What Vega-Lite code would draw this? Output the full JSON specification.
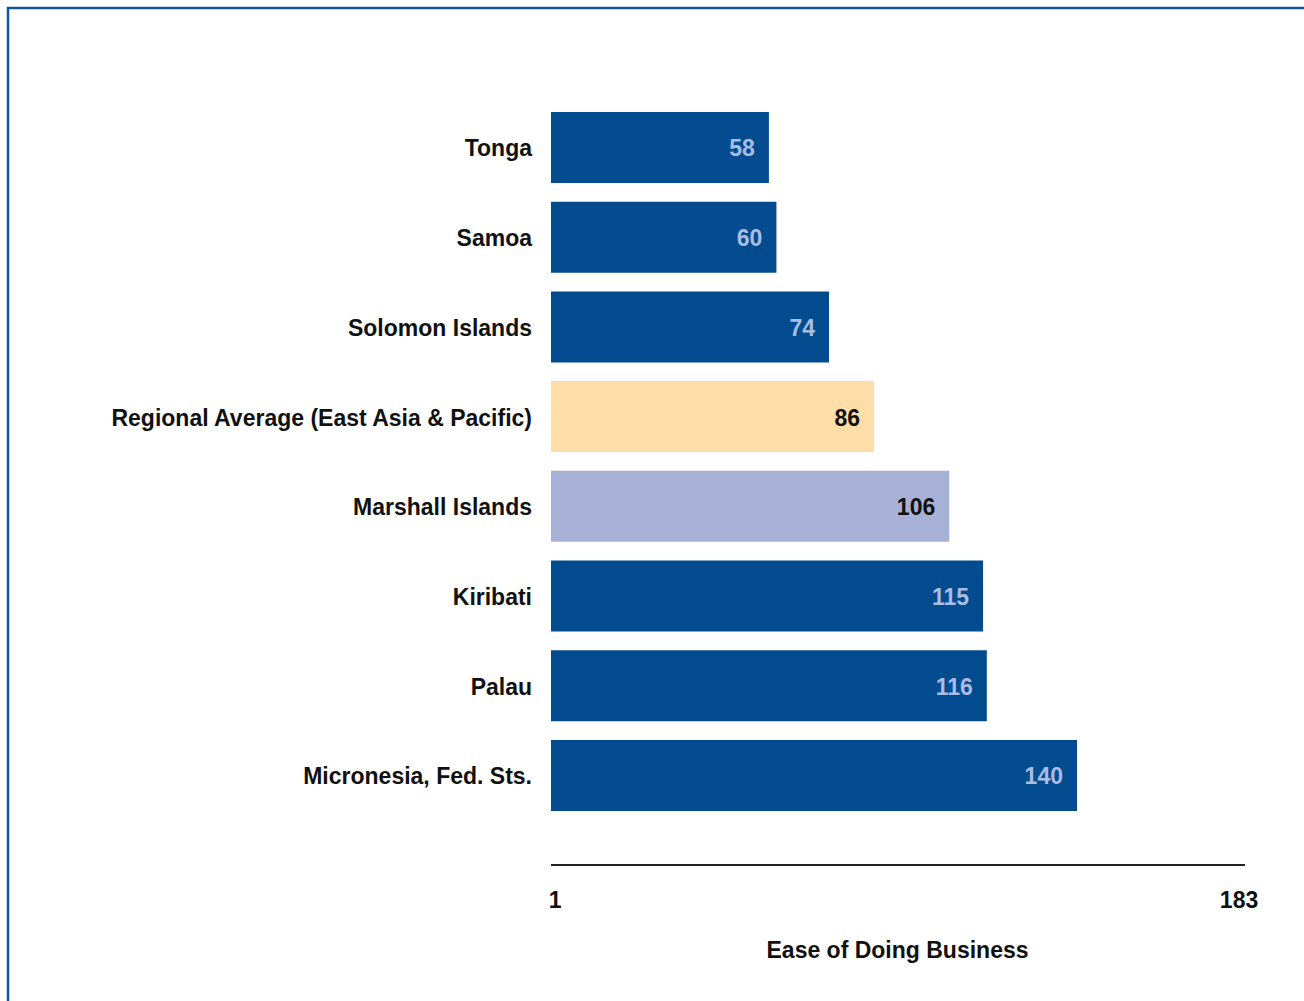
{
  "$schema": "https://vega.github.io/schema/vega-lite/v6.json",
  "width": 1310,
  "height": 1006,
  "autosize": {"type": "none"},
  "padding": {"left": 8, "top": 8, "right": 0, "bottom": 0},
  "background": "white",
  "config": {
    "view": {"stroke": "#15559c", "strokeWidth": 2.5},
    "font": "Liberation Sans",
    "text": {"font": "Liberation Sans", "fontSize": 23, "fontWeight": "bold"}
  },
  "data": {
    "values": [
      {"name": "Tonga", "value": 58, "type": "country"},
      {"name": "Samoa", "value": 60, "type": "country"},
      {"name": "Solomon Islands", "value": 74, "type": "country"},
      {"name": "Regional Average (East Asia & Pacific)", "value": 86, "type": "average"},
      {"name": "Marshall Islands", "value": 106, "type": "highlight"},
      {"name": "Kiribati", "value": 115, "type": "country"},
      {"name": "Palau", "value": 116, "type": "country"},
      {"name": "Micronesia, Fed. Sts.", "value": 140, "type": "country"}
    ]
  },
  "encoding": {
    "y": {
      "field": "name",
      "type": "nominal",
      "sort": null,
      "scale": {
        "domain": ["Tonga", "Samoa", "Solomon Islands", "Regional Average (East Asia & Pacific)", "Marshall Islands", "Kiribati", "Palau", "Micronesia, Fed. Sts.", "axis"],
        "range": [104, 892.6],
        "paddingInner": 0.2085,
        "paddingOuter": 0
      },
      "axis": null
    }
  },
  "layer": [
    {
      "mark": {"type": "bar"},
      "encoding": {
        "x": {
          "field": "value",
          "type": "quantitative",
          "scale": {"domain": [-144.53, 204.15], "nice": false, "zero": false},
          "axis": {
            "orient": "bottom",
            "offset": -125,
            "values": [1, 183],
            "domain": false,
            "ticks": false,
            "grid": false,
            "labelPadding": 0,
            "labelBaseline": "top",
            "labelFont": "Liberation Sans",
            "labelFontWeight": "bold",
            "labelFontSize": 23,
            "labelColor": "#111111",
            "labelFlush": false,
            "labelOverlap": false,
            "title": "Ease of Doing Business",
            "titleFont": "Liberation Sans",
            "titleFontWeight": "bold",
            "titleFontSize": 23,
            "titleColor": "#111111",
            "titleX": 889,
            "titleY": 68,
            "titleAlign": "center",
            "titleAnchor": null,
            "titleBaseline": "alphabetic"
          }
        },
        "x2": {"datum": 0},
        "color": {
          "field": "type",
          "type": "nominal",
          "scale": {"domain": ["country", "average", "highlight"], "range": ["#024b8e", "#fddea8", "#a6b1d5"]},
          "legend": null
        }
      }
    },
    {
      "mark": {"type": "text", "align": "right", "baseline": "middle", "dx": -19, "dy": 2, "color": "#111111"},
      "encoding": {
        "x": {"datum": 0},
        "text": {"field": "name"}
      }
    },
    {
      "mark": {"type": "text", "align": "right", "baseline": "middle", "dx": -14, "dy": 2},
      "encoding": {
        "x": {"field": "value", "type": "quantitative"},
        "text": {"field": "value"},
        "color": {
          "condition": {"test": "datum.type !== 'country'", "value": "#111111"},
          "value": "#a9bce3"
        }
      }
    },
    {
      "mark": {"type": "rule", "color": "#222222", "strokeWidth": 2},
      "encoding": {
        "x": {"datum": 0},
        "x2": {"datum": 184.7},
        "y": {"datum": "axis"}
      }
    }
  ]
}
